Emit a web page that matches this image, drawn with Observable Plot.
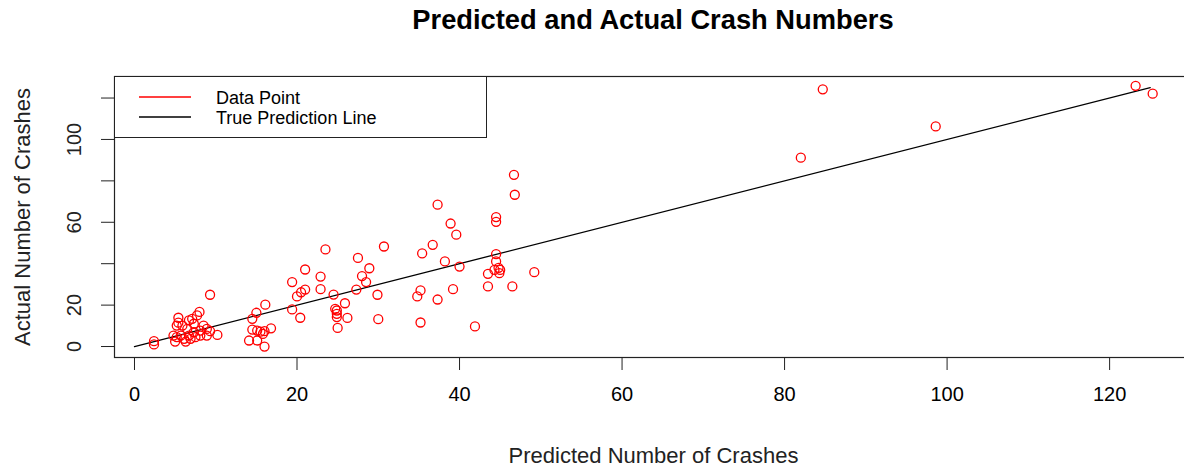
<!DOCTYPE html>
<html><head><meta charset="utf-8">
<script src="https://cdn.jsdelivr.net/npm/d3@7"></script>
<script src="https://cdn.jsdelivr.net/npm/@observablehq/plot@0.6"></script>
<style>
body{margin:0;background:#fff;font-family:"Liberation Sans",Arial,sans-serif;}
#wrap{position:relative;width:1184px;height:467px;overflow:hidden;background:#fff;}
#title{position:absolute;left:114px;top:0;width:1078px;height:40px;line-height:40px;text-align:center;font-weight:bold;font-size:27.3px;color:#000;}
#chart{position:absolute;left:0;top:40px;width:1200px;height:427px;}
#chart svg{max-width:none !important;width:1200px;height:427px;}
#legend{position:absolute;left:114px;top:76px;width:371px;height:60px;border:1px solid #222;background:#fff;}
#legend svg{position:absolute;left:0;top:0;}
.lg-text{position:absolute;left:101px;height:20px;line-height:20px;font-size:18px;color:#000;white-space:nowrap;}
</style>
</head><body>
<div id="wrap">
  <div id="title"></div>
  <div id="chart"></div>
  <div id="legend"></div>
</div>
<script>
// Data
const predicted = [
  2.4, 2.4, 9.3, 8.0, 7.7, 5.4, 5.4, 6.7, 7.1, 7.3,
  5.9, 6.5, 8.5, 8.9, 8.1, 10.2, 4.8, 5.2, 5.7, 6.1,
  6.7, 6.9, 7.5, 8.1, 8.9, 9.3, 5.0, 6.3, 5.2, 7.3,
  16.1, 15.0, 14.5, 14.5, 15.1, 15.5, 15.8, 16.0, 16.8, 14.1,
  15.1, 16.0, 19.4, 19.4, 20.0, 20.5, 21.0, 21.0, 20.4, 22.9,
  22.9, 23.5, 24.5, 25.9, 24.7, 24.9, 24.9, 24.9, 26.2, 25.0,
  27.5, 28.9, 28.0, 28.5, 27.3, 29.9, 30.0, 30.7, 35.4, 36.7,
  35.2, 34.8, 35.2, 37.3, 38.9, 39.6, 38.2, 40.0, 39.2, 37.3,
  41.9, 43.5, 43.5, 44.5, 44.5, 44.5, 44.5, 44.8, 45.0, 44.3,
  44.9, 46.7, 46.8, 46.5, 49.2, 82.0, 84.7, 98.6, 123.2, 125.3
];
const actual = [
  2.6, 1.0, 25.0, 16.7, 15.0, 13.9, 11.5, 12.6, 13.4, 11.0,
  10.1, 8.5, 10.1, 8.5, 7.7, 5.6, 5.3, 4.5, 5.3, 3.7,
  5.3, 3.7, 4.5, 5.3, 5.3, 7.4, 2.4, 2.4, 10.1, 6.9,
  20.2, 16.3, 13.4, 8.2, 7.7, 7.2, 6.1, 7.4, 8.8, 2.9,
  2.9, 0.0, 31.1, 17.9, 24.2, 26.2, 27.5, 37.2, 13.9, 33.8,
  27.7, 46.9, 25.1, 20.9, 18.2, 17.4, 15.8, 14.2, 13.8, 9.0,
  42.8, 37.8, 34.0, 31.1, 27.5, 25.0, 13.2, 48.3, 45.0, 49.1,
  27.1, 24.2, 11.6, 68.5, 59.4, 54.0, 41.1, 38.6, 27.7, 22.7,
  9.7, 35.1, 29.0, 62.5, 60.2, 44.6, 41.1, 38.0, 37.0, 37.0,
  35.4, 82.9, 73.3, 29.0, 35.9, 91.2, 124.2, 106.3, 125.9, 122.1
];
const lineVals = [0, 125];
const xTicks = [0, 20, 40, 60, 80, 100, 120];
const yTicks = [0, 20, 40, 60, 80, 100, 120];
const yTickLabels = [0, 20, 60, 100];
const titleText = "Predicted and Actual Crash Numbers";
const xLabel = "Predicted Number of Crashes";
const yLabel = "Actual Number of Crashes";
const legendItems = [
  {label: "Data Point", color: "#ff0000"},
  {label: "True Prediction Line", color: "#000000"}
];

const points = predicted.map((p, i) => ({predicted: p, actual: actual[i]}));

const chart = Plot.plot({
  width: 1200,
  height: 427,
  marginLeft: 114,
  marginRight: 8,
  marginTop: 36,
  marginBottom: 110,
  style: {fontFamily: "'Liberation Sans', Arial, sans-serif", fontSize: "20px", background: "white", color: "black", maxWidth: "none"},
  x: {domain: [-2.46, 130.2]},
  y: {domain: [-5.3, 130.4]},
  marks: [
    Plot.frame({stroke: "#222", strokeWidth: 1.2}),
    Plot.axisX({ticks: xTicks, tickSize: 13, tickPadding: 16, fontSize: 20, label: null, stroke: "#222"}),
    Plot.axisY({ticks: yTicks, tickSize: 13, tickFormat: () => "", label: null, stroke: "#222"}),
    Plot.text(yTickLabels, {y: d => d, text: d => String(d), frameAnchor: "left", dx: -40, rotate: -90, textAnchor: "middle", lineAnchor: "middle", fontSize: 20, fill: "#222"}),
    Plot.line(lineVals, {x: d => d, y: d => d, stroke: "black", strokeWidth: 1.3}),
    Plot.dot(points, {x: "predicted", y: "actual", r: 4.5, stroke: "#ff0000", strokeWidth: 1.3, fill: "none"}),
    Plot.text([xLabel], {text: d => d, frameAnchor: "bottom", dy: 98, lineAnchor: "middle", fontSize: 22, fill: "#222"}),
    Plot.text([yLabel], {text: d => d, frameAnchor: "left", dx: -92, rotate: -90, textAnchor: "middle", lineAnchor: "middle", fontSize: 22, fill: "#222"})
  ]
});
document.getElementById("chart").appendChild(chart);
document.getElementById("title").textContent = titleText;

const legend = document.getElementById("legend");
const NS = "http://www.w3.org/2000/svg";
const lsvg = document.createElementNS(NS, "svg");
lsvg.setAttribute("width", "371");
lsvg.setAttribute("height", "60");
legend.appendChild(lsvg);
legendItems.forEach((item, i) => {
  const ln = document.createElementNS(NS, "line");
  ln.setAttribute("x1", 24);
  ln.setAttribute("x2", 76);
  ln.setAttribute("y1", 20 + i * 20);
  ln.setAttribute("y2", 20 + i * 20);
  ln.setAttribute("stroke", item.color);
  ln.setAttribute("stroke-width", 1.5);
  lsvg.appendChild(ln);
  const tx = document.createElement("div");
  tx.className = "lg-text";
  tx.style.top = (11 + i * 20) + "px";
  tx.textContent = item.label;
  legend.appendChild(tx);
});
</script>
</body></html>
